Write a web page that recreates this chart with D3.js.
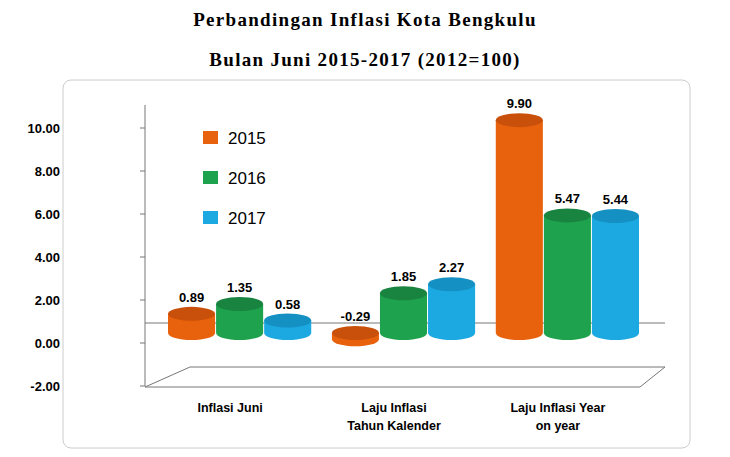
<!DOCTYPE html><html><head><script src="https://cdn.jsdelivr.net/npm/d3@7"></script>
<style>body{margin:0;background:#fff}</style></head><body><svg id="c" width="730" height="457"></svg>
<script>
const categories=[["Inflasi Juni"],["Laju Inflasi","Tahun Kalender"],["Laju Inflasi Year","on year"]];
const years=["2015","2016","2017"];
const v2015=[0.89,-0.29,9.90];
const v2016=[1.35,1.85,5.47];
const v2017=[0.58,2.27,5.44];
const yTicks=[-2,0,2,4,6,8,10];
const colors=["#E8620E","#1FA24E","#1CA9E1"];
const dark=["#C9500A","#18843F","#1590C2"];
const series=[v2015,v2016,v2017];
const svg=d3.select("#c");
const T="Liberation Serif, DejaVu Serif, serif";
svg.append("text").attr("x",365).attr("y",26).attr("text-anchor","middle").attr("font-family",T).attr("font-weight","bold").attr("font-size",19).attr("letter-spacing",1.3).text("Perbandingan Inflasi Kota Bengkulu");
svg.append("text").attr("x",365).attr("y",66).attr("text-anchor","middle").attr("font-family",T).attr("font-weight","bold").attr("font-size",19).attr("letter-spacing",1.3).text("Bulan Juni 2015-2017 (2012=100)");
svg.append("rect").attr("x",63).attr("y",80).attr("width",627).attr("height",368).attr("rx",8).attr("fill","none").attr("stroke","#ccc");
const yA=d3.scaleLinear().domain([-2,10]).range([386,128]);
const yB=d3.scaleLinear().domain([-2,10]).range([376,118]);
const F="Liberation Sans, Arial, sans-serif";
yTicks.forEach(t=>{svg.append("text").attr("x",60).attr("y",yA(t)+5).attr("text-anchor","end").attr("font-family",F).attr("font-weight","bold").attr("font-size",13).text(t.toFixed(2));
svg.append("line").attr("x1",140).attr("x2",145).attr("y1",yA(t)).attr("y2",yA(t)).attr("stroke","#777");});
svg.append("line").attr("x1",145).attr("x2",145).attr("y1",105).attr("y2",386).attr("stroke","#777");
svg.append("path").attr("d","M145,387 L640,387 L665,367 L190,367 Z").attr("fill","#fff").attr("stroke","#777");
svg.append("line").attr("x1",145).attr("x2",665).attr("y1",323).attr("y2",323).attr("stroke","#777");
const x0=d3.scaleBand().domain([0,1,2]).range([168,640]).paddingInner(0.12);
const x1=d3.scaleBand().domain([0,1,2]).range([0,x0.bandwidth()]);
const ry=7;
categories.forEach((c,i)=>{series.forEach((s,j)=>{const v=s[i];const x=x0(i)+x1(j),w=x1.bandwidth()-1;
 const top=yB(v),bot=yB(0);const lo=Math.max(top,bot),hi=Math.min(top,bot);
 svg.append("path").attr("d",`M${x},${hi} L${x},${lo} A${w/2},${ry} 0 0 0 ${x+w},${lo} L${x+w},${hi} Z`).attr("fill",colors[j]);
 svg.append("ellipse").attr("cx",x+w/2).attr("cy",hi).attr("rx",w/2).attr("ry",ry).attr("fill",dark[j]);
 svg.append("text").attr("x",x+w/2).attr("y",Math.min(top,bot)-12).attr("text-anchor","middle").attr("font-family",F).attr("font-weight","bold").attr("font-size",13).text(v.toFixed(2));
});
 c.forEach((l,k)=>svg.append("text").attr("x",x0(i)+x0.bandwidth()/2-10).attr("y",412+k*18).attr("text-anchor","middle").attr("font-family",F).attr("font-weight","bold").attr("font-size",12.5).text(l));
});
years.forEach((y,j)=>{svg.append("rect").attr("x",203).attr("y",131+j*40).attr("width",15).attr("height",13).attr("fill",colors[j]);
svg.append("text").attr("x",228).attr("y",144+j*40).attr("font-family",F).attr("font-size",17).text(y);});
</script></body></html>
